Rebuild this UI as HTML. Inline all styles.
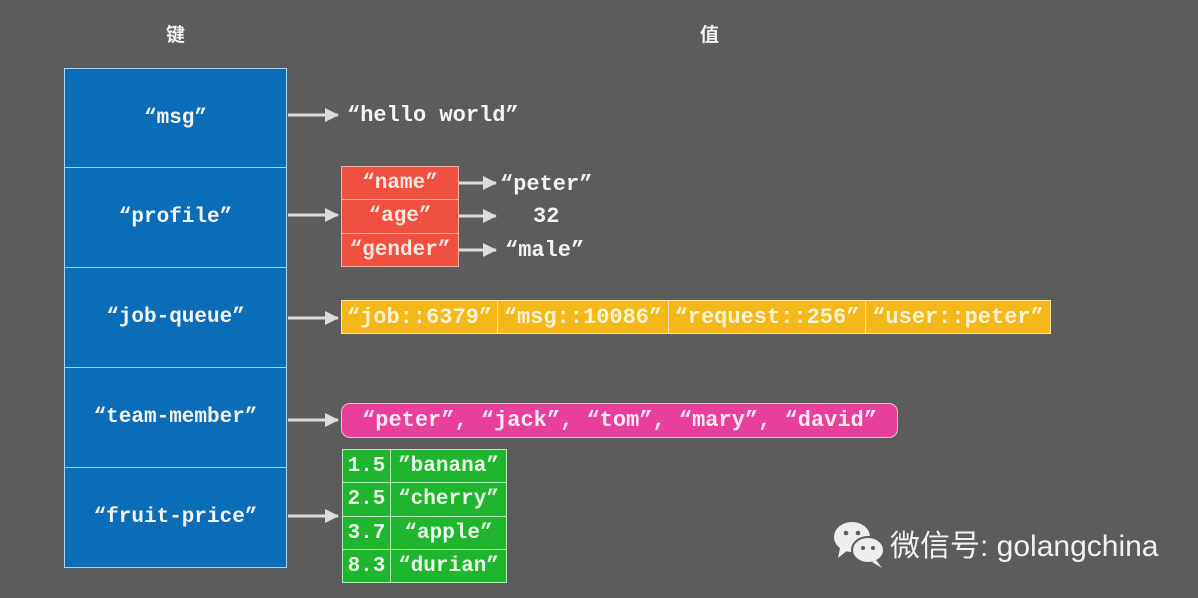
<!DOCTYPE html>
<html><head><meta charset="utf-8"><style>
body{margin:0;width:1198px;height:598px;background:#5d5c5d;position:relative;overflow:hidden;font-family:"Liberation Mono",monospace;font-weight:bold;color:#f4f4f4}
.a{position:absolute}
.t{position:absolute;font-size:22px;white-space:pre;line-height:1}
.c{display:flex;align-items:center;justify-content:center;box-sizing:border-box;position:absolute;font-size:21px;white-space:pre}
.blue{background:#0b6cb8;border:1px solid #a9d4f2}
.red{background:#f05040;border:1px solid #f6b0a8;color:#fbe6e0}
.yel{background:#f5b81a;border:1px solid #fbe3a0;color:#fdf3d6;font-size:22px}
.grn{background:#1fb52e;border:1px solid #b6ecb8;color:#eafbea}
</style></head><body>
<div class="a" style="left:166px;top:20px;font-family:'Noto Sans CJK SC',sans-serif;font-size:19px">键</div>
<div class="a" style="left:700px;top:20px;font-family:'Noto Sans CJK SC',sans-serif;font-size:19px">值</div>

<div class="c blue" style="left:64px;top:68px;width:223px;height:100px">“msg”</div>
<div class="c blue" style="left:64px;top:167px;width:223px;height:101px">“profile”</div>
<div class="c blue" style="left:64px;top:267px;width:223px;height:101px">“job-queue”</div>
<div class="c blue" style="left:64px;top:367px;width:223px;height:101px">“team-member”</div>
<div class="c blue" style="left:64px;top:467px;width:223px;height:101px">“fruit-price”</div>

<svg class="a" style="left:0;top:0" width="1198" height="598">
<defs><marker id="m" markerWidth="16" markerHeight="16" refX="13" refY="7" orient="auto" markerUnits="userSpaceOnUse"><path d="M0,0L14,7L0,14z" fill="#dcdcdc"/></marker></defs>
<g stroke="#dcdcdc" stroke-width="3" marker-end="url(#m)">
<line x1="288" y1="115" x2="338" y2="115"/>
<line x1="288" y1="215" x2="338" y2="215"/>
<line x1="288" y1="318" x2="338" y2="318"/>
<line x1="288" y1="420" x2="338" y2="420"/>
<line x1="288" y1="516" x2="338" y2="516"/>
<line x1="459" y1="183" x2="496" y2="183"/>
<line x1="459" y1="216" x2="496" y2="216"/>
<line x1="459" y1="250" x2="496" y2="250"/>
</g></svg>

<div class="t" style="left:347px;top:105px">“hello world”</div>

<div class="c red" style="left:341px;top:166px;width:118px;height:34px">“name”</div>
<div class="c red" style="left:341px;top:199px;width:118px;height:35px">“age”</div>
<div class="c red" style="left:341px;top:233px;width:118px;height:34px">“gender”</div>
<div class="t" style="left:500px;top:174px">“peter”</div>
<div class="t" style="left:533px;top:206px">32</div>
<div class="t" style="left:505px;top:240px">“male”</div>

<div class="c yel" style="left:341px;top:300px;width:157px;height:34px">“job::6379”</div>
<div class="c yel" style="left:497px;top:300px;width:172px;height:34px">“msg::10086”</div>
<div class="c yel" style="left:668px;top:300px;width:198px;height:34px">“request::256”</div>
<div class="c yel" style="left:865px;top:300px;width:186px;height:34px">“user::peter”</div>

<div class="c" style="left:341px;top:403px;width:557px;height:35px;background:#e8409a;border:1px solid #f7b6d8;border-radius:9px;color:#fde8f3;font-size:22px">“peter”, “jack”, “tom”, “mary”, “david”</div>

<div class="c grn" style="left:342px;top:449px;width:49px;height:34px">1.5</div>
<div class="c grn" style="left:390px;top:449px;width:117px;height:34px">”banana”</div>
<div class="c grn" style="left:342px;top:482px;width:49px;height:35px">2.5</div>
<div class="c grn" style="left:390px;top:482px;width:117px;height:35px">“cherry”</div>
<div class="c grn" style="left:342px;top:516px;width:49px;height:34px">3.7</div>
<div class="c grn" style="left:390px;top:516px;width:117px;height:34px">“apple”</div>
<div class="c grn" style="left:342px;top:549px;width:49px;height:34px">8.3</div>
<div class="c grn" style="left:390px;top:549px;width:117px;height:34px">“durian”</div>

<svg class="a" style="left:832px;top:520px" width="58" height="50">
<ellipse cx="20" cy="17" rx="18" ry="15" fill="#eee"/>
<path d="M8,28 L6,38 L16,30z" fill="#eee"/>
<ellipse cx="36" cy="30" rx="16" ry="13" stroke="#5d5c5d" stroke-width="2" fill="#eee"/>
<path d="M44,40 L50,48 L40,42z" fill="#eee"/>
<circle cx="14" cy="13" r="2.3" fill="#5d5c5d"/><circle cx="26" cy="13" r="2.3" fill="#5d5c5d"/>
<circle cx="31" cy="28" r="2" fill="#5d5c5d"/><circle cx="41" cy="28" r="2" fill="#5d5c5d"/>
</svg>
<div class="a" style="left:890px;top:521px;font-family:'Liberation Sans','Noto Sans CJK SC',sans-serif;font-weight:normal;font-size:30px;color:#f2f2f2;white-space:pre">微信号: golangchina</div>
</body></html>
